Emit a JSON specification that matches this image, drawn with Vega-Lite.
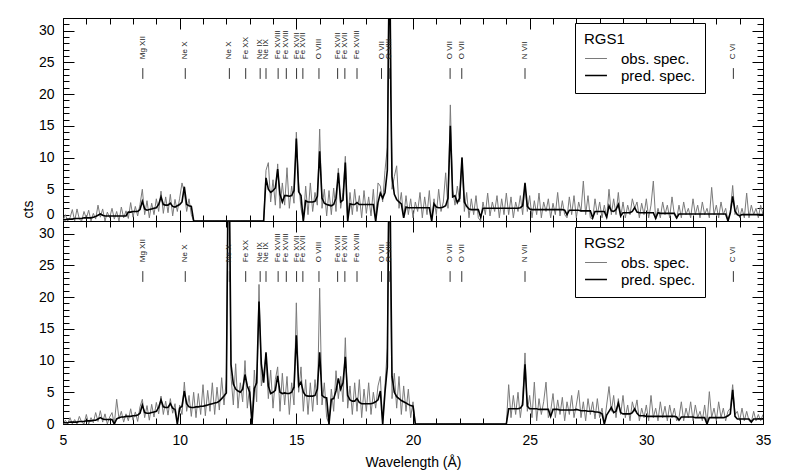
{
"$schema":"https://vega.github.io/schema/vega-lite/v6.json",
"padding":{"left":21,"top":11,"right":5,"bottom":3},
"background":"white",
"config":{"view":{"stroke":null},"font":"Liberation Sans"},
"spacing":0,
"bounds":"flush",
"resolve":{"scale":{"color":"independent","strokeWidth":"independent"},"legend":{"color":"independent"}},
"datasets":{
"lines":[{"w":8.42,"ion":"Mg XII"},{"w":10.24,"ion":"Ne X"},{"w":12.13,"ion":"Ne X"},{"w":12.83,"ion":"Fe XX"},{"w":13.45,"ion":"Ne IX"},{"w":13.7,"ion":"Ne IX"},{"w":14.22,"ion":"Fe XVIII"},{"w":14.57,"ion":"Fe XVIII"},{"w":15.01,"ion":"Fe XVII"},{"w":15.28,"ion":"Fe XVII"},{"w":15.97,"ion":"O VIII"},{"w":16.77,"ion":"Fe XVII"},{"w":17.08,"ion":"Fe XVII"},{"w":17.6,"ion":"Fe XVIII"},{"w":18.65,"ion":"O VII"},{"w":18.98,"ion":"O VIII"},{"w":21.59,"ion":"O VII"},{"w":22.09,"ion":"O VII"},{"w":24.8,"ion":"N VII"},{"w":33.73,"ion":"C VI"}],
"spec":[
{"w":5.0,"p1":0.2,"o1":0,"p2":0.2,"o2":0},
{"w":5.1,"p1":0.2,"o1":1.0,"p2":0.2,"o2":0.6},
{"w":5.2,"p1":0.3,"o1":0,"p2":0.2,"o2":0},
{"w":5.3,"p1":0.3,"o1":0.5,"p2":0.3,"o2":1.0},
{"w":5.4,"p1":0.3,"o1":1.8,"p2":0.3,"o2":0},
{"w":5.5,"p1":0.4,"o1":0,"p2":0.3,"o2":0.7},
{"w":5.6,"p1":0.4,"o1":1.9,"p2":0.3,"o2":0},
{"w":5.7,"p1":0.4,"o1":0.3,"p2":0.4,"o2":1.2},
{"w":5.8,"p1":0.4,"o1":0,"p2":0.4,"o2":0.3},
{"w":5.9,"p1":0.5,"o1":1.5,"p2":0.4,"o2":0},
{"w":6.0,"p1":0.5,"o1":0.4,"p2":0.5,"o2":1.5},
{"w":6.1,"p1":0.5,"o1":1.7,"p2":0.5,"o2":0},
{"w":6.2,"p1":0.5,"o1":0,"p2":0.5,"o2":1.0},
{"w":6.3,"p1":0.6,"o1":1.2,"p2":0.6,"o2":0.2},
{"w":6.4,"p1":0.7,"o1":0.3,"p2":0.6,"o2":1.8},
{"w":6.5,"p1":0.9,"o1":2.5,"p2":0.8,"o2":0.4},
{"w":6.6,"p1":1.1,"o1":0.6,"p2":1.0,"o2":2.1},
{"w":6.7,"p1":0.9,"o1":1.9,"p2":0.8,"o2":0.3},
{"w":6.8,"p1":0.8,"o1":0,"p2":0.7,"o2":1.6},
{"w":6.9,"p1":0.8,"o1":1.4,"p2":0.7,"o2":0},
{"w":7.0,"p1":0.8,"o1":0.5,"p2":0.7,"o2":1.1},
{"w":7.1,"p1":0.8,"o1":2.0,"p2":0.7,"o2":1.8},
{"w":7.2,"p1":0.8,"o1":0.3,"p2":0,"o2":0},
{"w":7.3,"p1":0.8,"o1":1.5,"p2":0.8,"o2":3.9},
{"w":7.4,"p1":0.8,"o1":0,"p2":1.0,"o2":0.8},
{"w":7.5,"p1":0.8,"o1":2.2,"p2":1.1,"o2":2.0},
{"w":7.6,"p1":0.8,"o1":0.5,"p2":1.1,"o2":0.3},
{"w":7.7,"p1":0.8,"o1":1.6,"p2":1.2,"o2":1.6},
{"w":7.8,"p1":1.4,"o1":0.4,"p2":1.2,"o2":0.5},
{"w":7.9,"p1":1.4,"o1":2.9,"p2":1.2,"o2":2.4},
{"w":8.0,"p1":1.5,"o1":0.6,"p2":1.3,"o2":0.6},
{"w":8.1,"p1":1.5,"o1":2.3,"p2":1.3,"o2":1.9},
{"w":8.2,"p1":1.5,"o1":0.8,"p2":1.4,"o2":0.4},
{"w":8.3,"p1":1.8,"o1":2.6,"p2":1.7,"o2":2.7},
{"w":8.4,"p1":3.1,"o1":5.0,"p2":3.0,"o2":3.9},
{"w":8.5,"p1":1.9,"o1":1.0,"p2":1.8,"o2":1.0},
{"w":8.6,"p1":1.7,"o1":3.2,"p2":1.7,"o2":2.9},
{"w":8.7,"p1":1.8,"o1":0.5,"p2":1.7,"o2":0.6},
{"w":8.8,"p1":1.9,"o1":2.8,"p2":1.8,"o2":3.1},
{"w":8.9,"p1":2.0,"o1":1.0,"p2":1.9,"o2":1.1},
{"w":9.0,"p1":2.1,"o1":3.5,"p2":2.0,"o2":3.4},
{"w":9.1,"p1":2.6,"o1":1.5,"p2":2.6,"o2":1.6},
{"w":9.2,"p1":3.8,"o1":4.7,"p2":3.8,"o2":4.4},
{"w":9.3,"p1":2.6,"o1":1.2,"p2":2.7,"o2":1.5},
{"w":9.4,"p1":2.5,"o1":3.8,"p2":2.6,"o2":3.6},
{"w":9.5,"p1":2.5,"o1":1.3,"p2":2.6,"o2":1.4},
{"w":9.6,"p1":2.8,"o1":4.2,"p2":3.2,"o2":4.0},
{"w":9.7,"p1":2.3,"o1":0.8,"p2":2.5,"o2":1.7},
{"w":9.8,"p1":2.2,"o1":3.4,"p2":2.3,"o2":3.2},
{"w":9.9,"p1":2.4,"o1":1.5,"p2":0,"o2":0},
{"w":10.0,"p1":2.6,"o1":3.6,"p2":2.5,"o2":3.0},
{"w":10.1,"p1":3.0,"o1":6.0,"p2":2.8,"o2":1.5},
{"w":10.2,"p1":5.4,"o1":4.5,"p2":5.2,"o2":6.6},
{"w":10.3,"p1":2.6,"o1":1.5,"p2":3.2,"o2":2.0},
{"w":10.4,"p1":2.4,"o1":3.5,"p2":2.7,"o2":4.5},
{"w":10.5,"p1":2.3,"o1":1.0,"p2":2.6,"o2":1.2},
{"w":10.6,"p1":0,"o1":0,"p2":2.6,"o2":5.0},
{"w":10.7,"p1":0,"o1":0,"p2":2.7,"o2":1.0},
{"w":10.8,"p1":0,"o1":0,"p2":2.7,"o2":4.8},
{"w":10.9,"p1":0,"o1":0,"p2":2.8,"o2":1.5},
{"w":11.0,"p1":0,"o1":0,"p2":2.8,"o2":6.2},
{"w":11.1,"p1":0,"o1":0,"p2":2.9,"o2":1.3},
{"w":11.2,"p1":0,"o1":0,"p2":3.0,"o2":5.3},
{"w":11.3,"p1":0,"o1":0,"p2":3.1,"o2":2.0},
{"w":11.4,"p1":0,"o1":0,"p2":3.2,"o2":6.5},
{"w":11.5,"p1":0,"o1":0,"p2":3.3,"o2":1.5},
{"w":11.6,"p1":0,"o1":0,"p2":3.4,"o2":5.8},
{"w":11.7,"p1":0,"o1":0,"p2":3.6,"o2":2.2},
{"w":11.8,"p1":0,"o1":0,"p2":4.0,"o2":7.3},
{"w":11.9,"p1":0,"o1":0,"p2":4.4,"o2":3.0},
{"w":12.0,"p1":0,"o1":0,"p2":4.9,"o2":7.0},
{"w":12.1,"p1":0,"o1":0,"p2":50,"o2":45},
{"w":12.2,"p1":0,"o1":0,"p2":9.4,"o2":7.5},
{"w":12.3,"p1":0,"o1":0,"p2":6.3,"o2":3.0},
{"w":12.4,"p1":0,"o1":0,"p2":5.5,"o2":9.5},
{"w":12.5,"p1":0,"o1":0,"p2":5.2,"o2":2.5},
{"w":12.6,"p1":0,"o1":0,"p2":5.0,"o2":6.5},
{"w":12.7,"p1":0,"o1":0,"p2":5.5,"o2":3.5},
{"w":12.8,"p1":0,"o1":0,"p2":7.8,"o2":10.0},
{"w":12.9,"p1":0,"o1":0,"p2":6.0,"o2":2.5},
{"w":13.0,"p1":0,"o1":0,"p2":5.0,"o2":6.0},
{"w":13.1,"p1":0,"o1":0,"p2":0,"o2":0},
{"w":13.2,"p1":0,"o1":0,"p2":5.6,"o2":8.5},
{"w":13.3,"p1":0,"o1":0,"p2":6.5,"o2":3.5},
{"w":13.4,"p1":0,"o1":0,"p2":19.3,"o2":22.0},
{"w":13.5,"p1":0,"o1":0,"p2":9.5,"o2":6.0},
{"w":13.6,"p1":0,"o1":0,"p2":6.5,"o2":8.0},
{"w":13.7,"p1":6.8,"o1":8.0,"p2":11.3,"o2":11.0},
{"w":13.8,"p1":5.0,"o1":9.2,"p2":6.0,"o2":4.0},
{"w":13.9,"p1":4.5,"o1":3.0,"p2":4.8,"o2":8.5},
{"w":14.0,"p1":4.8,"o1":6.5,"p2":5.0,"o2":2.5},
{"w":14.1,"p1":5.2,"o1":2.5,"p2":5.3,"o2":7.0},
{"w":14.2,"p1":8.2,"o1":9.0,"p2":7.6,"o2":9.0},
{"w":14.3,"p1":4.2,"o1":2.0,"p2":5.0,"o2":2.0},
{"w":14.4,"p1":3.0,"o1":6.0,"p2":4.8,"o2":8.0},
{"w":14.5,"p1":4.0,"o1":2.5,"p2":4.9,"o2":3.0},
{"w":14.6,"p1":4.0,"o1":8.4,"p2":4.8,"o2":7.5},
{"w":14.7,"p1":3.9,"o1":2.0,"p2":4.8,"o2":1.5},
{"w":14.8,"p1":4.0,"o1":5.5,"p2":5.0,"o2":6.5},
{"w":14.9,"p1":4.8,"o1":2.8,"p2":5.8,"o2":3.0},
{"w":15.0,"p1":13.0,"o1":14.0,"p2":14.0,"o2":19.1},
{"w":15.1,"p1":4.6,"o1":6.0,"p2":6.0,"o2":5.0},
{"w":15.2,"p1":4.0,"o1":2.0,"p2":6.6,"o2":9.0},
{"w":15.3,"p1":0,"o1":0,"p2":5.0,"o2":2.0},
{"w":15.4,"p1":3.2,"o1":5.5,"p2":4.5,"o2":7.0},
{"w":15.5,"p1":3.0,"o1":1.0,"p2":4.4,"o2":1.5},
{"w":15.6,"p1":3.0,"o1":6.0,"p2":4.4,"o2":6.5},
{"w":15.7,"p1":3.0,"o1":1.5,"p2":4.4,"o2":2.0},
{"w":15.8,"p1":3.1,"o1":4.5,"p2":4.5,"o2":7.0},
{"w":15.9,"p1":3.9,"o1":2.5,"p2":5.5,"o2":3.0},
{"w":16.0,"p1":11.0,"o1":14.5,"p2":11.3,"o2":21.4},
{"w":16.1,"p1":3.6,"o1":2.0,"p2":4.5,"o2":3.0},
{"w":16.2,"p1":2.8,"o1":5.0,"p2":4.2,"o2":6.5},
{"w":16.3,"p1":2.6,"o1":0.8,"p2":4.1,"o2":1.0},
{"w":16.4,"p1":2.5,"o1":4.8,"p2":0,"o2":0},
{"w":16.5,"p1":2.4,"o1":1.0,"p2":3.9,"o2":5.5},
{"w":16.6,"p1":2.6,"o1":5.2,"p2":4.0,"o2":2.0},
{"w":16.7,"p1":3.6,"o1":1.5,"p2":5.2,"o2":8.4},
{"w":16.8,"p1":7.6,"o1":8.3,"p2":7.2,"o2":4.0},
{"w":16.9,"p1":3.0,"o1":2.0,"p2":5.5,"o2":7.5},
{"w":17.0,"p1":3.3,"o1":4.5,"p2":6.5,"o2":3.5},
{"w":17.1,"p1":9.2,"o1":10.2,"p2":10.6,"o2":13.6},
{"w":17.2,"p1":0,"o1":0,"p2":4.5,"o2":2.5},
{"w":17.3,"p1":2.7,"o1":4.5,"p2":3.8,"o2":6.0},
{"w":17.4,"p1":2.6,"o1":1.0,"p2":3.6,"o2":1.5},
{"w":17.5,"p1":2.6,"o1":5.0,"p2":3.6,"o2":6.5},
{"w":17.6,"p1":2.9,"o1":1.5,"p2":4.0,"o2":2.0},
{"w":17.7,"p1":2.6,"o1":4.0,"p2":3.4,"o2":7.0},
{"w":17.8,"p1":2.6,"o1":0.5,"p2":3.2,"o2":1.0},
{"w":17.9,"p1":2.6,"o1":4.8,"p2":3.2,"o2":5.5},
{"w":18.0,"p1":2.6,"o1":1.2,"p2":3.2,"o2":2.0},
{"w":18.1,"p1":2.6,"o1":3.8,"p2":3.2,"o2":6.5},
{"w":18.2,"p1":2.6,"o1":0.8,"p2":3.2,"o2":1.5},
{"w":18.3,"p1":2.6,"o1":5.0,"p2":3.3,"o2":5.0},
{"w":18.4,"p1":0,"o1":0,"p2":3.5,"o2":2.5},
{"w":18.5,"p1":2.9,"o1":6.0,"p2":3.8,"o2":6.0},
{"w":18.6,"p1":4.4,"o1":5.5,"p2":5.2,"o2":7.5},
{"w":18.7,"p1":3.6,"o1":3.0,"p2":0,"o2":0},
{"w":18.8,"p1":4.5,"o1":8.0,"p2":5.0,"o2":6.0},
{"w":18.9,"p1":8.0,"o1":11.6,"p2":9.0,"o2":12.0},
{"w":18.95,"p1":28,"o1":33,"p2":30,"o2":36},
{"w":19.0,"p1":45,"o1":48,"p2":45,"o2":48},
{"w":19.05,"p1":20,"o1":24,"p2":24,"o2":20},
{"w":19.1,"p1":7.0,"o1":5.0,"p2":7.5,"o2":4.0},
{"w":19.2,"p1":4.2,"o1":7.0,"p2":5.0,"o2":8.0},
{"w":19.3,"p1":3.4,"o1":8.7,"p2":4.3,"o2":2.5},
{"w":19.4,"p1":3.0,"o1":2.0,"p2":4.0,"o2":7.5},
{"w":19.5,"p1":2.7,"o1":4.5,"p2":3.7,"o2":1.5},
{"w":19.6,"p1":0.5,"o1":0.5,"p2":3.5,"o2":6.0},
{"w":19.7,"p1":2.2,"o1":4.0,"p2":3.3,"o2":2.0},
{"w":19.8,"p1":2.1,"o1":1.0,"p2":3.1,"o2":5.5},
{"w":19.9,"p1":2.1,"o1":3.5,"p2":2.9,"o2":1.0},
{"w":20.0,"p1":2.1,"o1":0.5,"p2":2.8,"o2":3.5},
{"w":20.1,"p1":2.1,"o1":3.0,"p2":0,"o2":0},
{"w":20.2,"p1":2.1,"o1":1.5,"p2":0,"o2":0},
{"w":20.3,"p1":2.1,"o1":4.5,"p2":0,"o2":0},
{"w":20.4,"p1":2.1,"o1":0.5,"p2":0,"o2":0},
{"w":20.5,"p1":2.1,"o1":3.8,"p2":0,"o2":0},
{"w":20.6,"p1":2.1,"o1":1.0,"p2":0,"o2":0},
{"w":20.7,"p1":2.1,"o1":4.8,"p2":0,"o2":0},
{"w":20.8,"p1":0,"o1":0,"p2":0,"o2":0},
{"w":20.9,"p1":2.7,"o1":3.5,"p2":0,"o2":0},
{"w":21.0,"p1":2.2,"o1":1.0,"p2":0,"o2":0},
{"w":21.1,"p1":2.1,"o1":5.0,"p2":0,"o2":0},
{"w":21.2,"p1":2.1,"o1":1.5,"p2":0,"o2":0},
{"w":21.3,"p1":2.2,"o1":3.0,"p2":0,"o2":0},
{"w":21.4,"p1":2.4,"o1":7.6,"p2":0,"o2":0},
{"w":21.5,"p1":3.6,"o1":2.0,"p2":0,"o2":0},
{"w":21.6,"p1":15.0,"o1":18.3,"p2":0,"o2":0},
{"w":21.7,"p1":3.8,"o1":5.0,"p2":0,"o2":0},
{"w":21.8,"p1":4.0,"o1":2.5,"p2":0,"o2":0},
{"w":21.9,"p1":2.9,"o1":5.5,"p2":0,"o2":0},
{"w":22.0,"p1":3.6,"o1":3.0,"p2":0,"o2":0},
{"w":22.1,"p1":10.0,"o1":10.0,"p2":0,"o2":0},
{"w":22.2,"p1":3.0,"o1":1.5,"p2":0,"o2":0},
{"w":22.3,"p1":2.3,"o1":4.5,"p2":0,"o2":0},
{"w":22.4,"p1":1.9,"o1":0.5,"p2":0,"o2":0},
{"w":22.5,"p1":1.8,"o1":3.5,"p2":0,"o2":0},
{"w":22.6,"p1":1.8,"o1":1.0,"p2":0,"o2":0},
{"w":22.7,"p1":1.8,"o1":4.0,"p2":0,"o2":0},
{"w":22.8,"p1":1.8,"o1":0.5,"p2":0,"o2":0},
{"w":22.9,"p1":0.6,"o1":0,"p2":0,"o2":0},
{"w":23.0,"p1":2.0,"o1":3.0,"p2":0,"o2":0},
{"w":23.1,"p1":2.0,"o1":1.0,"p2":0,"o2":0},
{"w":23.2,"p1":2.0,"o1":4.4,"p2":0,"o2":0},
{"w":23.3,"p1":2.0,"o1":0.8,"p2":0,"o2":0},
{"w":23.4,"p1":2.0,"o1":3.0,"p2":0,"o2":0},
{"w":23.5,"p1":2.0,"o1":1.5,"p2":0,"o2":0},
{"w":23.6,"p1":2.0,"o1":4.0,"p2":0,"o2":0},
{"w":23.7,"p1":2.0,"o1":0.5,"p2":0,"o2":0},
{"w":23.8,"p1":2.0,"o1":3.5,"p2":0,"o2":0},
{"w":23.9,"p1":2.0,"o1":1.0,"p2":0,"o2":0},
{"w":24.0,"p1":2.0,"o1":4.4,"p2":0,"o2":0},
{"w":24.1,"p1":2.0,"o1":1.0,"p2":2.4,"o2":6.2},
{"w":24.2,"p1":2.0,"o1":3.8,"p2":2.4,"o2":1.0},
{"w":24.3,"p1":2.0,"o1":0.5,"p2":2.4,"o2":4.5},
{"w":24.4,"p1":2.0,"o1":3.0,"p2":2.4,"o2":1.5},
{"w":24.5,"p1":2.0,"o1":1.5,"p2":2.4,"o2":5.0},
{"w":24.6,"p1":2.1,"o1":4.0,"p2":2.5,"o2":1.0},
{"w":24.7,"p1":2.4,"o1":1.0,"p2":3.0,"o2":4.0},
{"w":24.8,"p1":6.0,"o1":5.8,"p2":9.4,"o2":11.2},
{"w":24.9,"p1":2.3,"o1":1.5,"p2":2.8,"o2":2.0},
{"w":25.0,"p1":1.9,"o1":4.0,"p2":2.4,"o2":4.5},
{"w":25.1,"p1":1.8,"o1":0.5,"p2":2.4,"o2":1.0},
{"w":25.2,"p1":1.8,"o1":3.2,"p2":2.4,"o2":6.6},
{"w":25.3,"p1":1.8,"o1":1.0,"p2":2.4,"o2":0.5},
{"w":25.4,"p1":1.8,"o1":4.4,"p2":2.3,"o2":4.0},
{"w":25.5,"p1":1.8,"o1":0.5,"p2":2.3,"o2":1.5},
{"w":25.6,"p1":1.8,"o1":3.0,"p2":2.3,"o2":3.5},
{"w":25.7,"p1":1.8,"o1":1.5,"p2":2.3,"o2":6.6},
{"w":25.8,"p1":1.8,"o1":3.5,"p2":2.3,"o2":1.0},
{"w":25.9,"p1":1.8,"o1":0.5,"p2":1.2,"o2":2.0},
{"w":26.0,"p1":1.8,"o1":2.8,"p2":2.3,"o2":4.8},
{"w":26.1,"p1":1.8,"o1":1.0,"p2":2.3,"o2":1.0},
{"w":26.2,"p1":1.8,"o1":4.5,"p2":2.3,"o2":3.8},
{"w":26.3,"p1":1.8,"o1":0.8,"p2":2.2,"o2":1.5},
{"w":26.4,"p1":1.8,"o1":3.2,"p2":2.2,"o2":4.2},
{"w":26.5,"p1":1.7,"o1":1.0,"p2":2.2,"o2":0.5},
{"w":26.6,"p1":1.0,"o1":0.5,"p2":2.2,"o2":3.5},
{"w":26.7,"p1":1.7,"o1":3.8,"p2":2.2,"o2":1.5},
{"w":26.8,"p1":1.7,"o1":1.0,"p2":2.2,"o2":4.5},
{"w":26.9,"p1":1.7,"o1":4.0,"p2":2.2,"o2":1.0},
{"w":27.0,"p1":1.7,"o1":0.5,"p2":2.3,"o2":3.0},
{"w":27.1,"p1":1.7,"o1":3.0,"p2":2.2,"o2":5.3},
{"w":27.2,"p1":1.6,"o1":1.5,"p2":2.1,"o2":1.0},
{"w":27.3,"p1":1.6,"o1":6.3,"p2":2.1,"o2":3.5},
{"w":27.4,"p1":1.6,"o1":1.0,"p2":2.1,"o2":0.5},
{"w":27.5,"p1":1.6,"o1":4.0,"p2":2.0,"o2":4.0},
{"w":27.6,"p1":1.6,"o1":0.5,"p2":2.0,"o2":1.5},
{"w":27.7,"p1":0.5,"o1":0.3,"p2":2.0,"o2":3.5},
{"w":27.8,"p1":1.5,"o1":3.5,"p2":1.9,"o2":0.8},
{"w":27.9,"p1":1.5,"o1":1.0,"p2":1.9,"o2":4.0},
{"w":28.0,"p1":1.5,"o1":3.0,"p2":1.8,"o2":1.0},
{"w":28.1,"p1":1.5,"o1":0.5,"p2":1.6,"o2":2.5},
{"w":28.2,"p1":1.5,"o1":2.5,"p2":0,"o2":0},
{"w":28.3,"p1":0.6,"o1":0.5,"p2":1.4,"o2":3.0},
{"w":28.4,"p1":2.4,"o1":5.0,"p2":2.0,"o2":5.9},
{"w":28.5,"p1":1.6,"o1":1.0,"p2":2.6,"o2":2.0},
{"w":28.6,"p1":1.5,"o1":3.5,"p2":1.8,"o2":4.5},
{"w":28.7,"p1":1.8,"o1":1.0,"p2":2.0,"o2":1.0},
{"w":28.8,"p1":2.6,"o1":4.5,"p2":3.3,"o2":4.0},
{"w":28.9,"p1":0.8,"o1":0.5,"p2":1.8,"o2":1.5},
{"w":29.0,"p1":1.3,"o1":3.0,"p2":1.6,"o2":4.5},
{"w":29.1,"p1":1.3,"o1":0.5,"p2":1.6,"o2":1.0},
{"w":29.2,"p1":1.3,"o1":2.5,"p2":1.6,"o2":3.0},
{"w":29.3,"p1":1.3,"o1":1.0,"p2":1.6,"o2":0.5},
{"w":29.4,"p1":1.5,"o1":3.5,"p2":1.8,"o2":3.5},
{"w":29.5,"p1":2.1,"o1":2.0,"p2":2.4,"o2":2.0},
{"w":29.6,"p1":1.4,"o1":3.0,"p2":1.7,"o2":3.8},
{"w":29.7,"p1":1.3,"o1":0.5,"p2":1.3,"o2":0.5},
{"w":29.8,"p1":1.3,"o1":2.8,"p2":1.3,"o2":2.5},
{"w":29.9,"p1":1.3,"o1":1.0,"p2":1.3,"o2":1.0},
{"w":30.0,"p1":1.3,"o1":3.5,"p2":1.2,"o2":3.0},
{"w":30.1,"p1":1.3,"o1":0.5,"p2":1.2,"o2":0.5},
{"w":30.2,"p1":1.3,"o1":2.5,"p2":1.2,"o2":4.5},
{"w":30.3,"p1":1.3,"o1":6.3,"p2":1.2,"o2":1.0},
{"w":30.4,"p1":0.4,"o1":0.3,"p2":1.2,"o2":2.5},
{"w":30.5,"p1":1.3,"o1":2.0,"p2":1.2,"o2":0.5},
{"w":30.6,"p1":1.2,"o1":0.5,"p2":1.2,"o2":3.5},
{"w":30.7,"p1":1.2,"o1":3.0,"p2":1.2,"o2":1.0},
{"w":30.8,"p1":1.2,"o1":1.0,"p2":1.2,"o2":2.8},
{"w":30.9,"p1":1.2,"o1":2.5,"p2":1.2,"o2":0.5},
{"w":31.0,"p1":1.2,"o1":0.5,"p2":1.2,"o2":3.0},
{"w":31.1,"p1":1.2,"o1":3.8,"p2":1.2,"o2":1.0},
{"w":31.2,"p1":1.2,"o1":1.0,"p2":1.2,"o2":2.5},
{"w":31.3,"p1":0.5,"o1":0.3,"p2":1.1,"o2":0.5},
{"w":31.4,"p1":1.1,"o1":2.5,"p2":0.6,"o2":1.0},
{"w":31.5,"p1":1.1,"o1":0.5,"p2":1.1,"o2":3.5},
{"w":31.6,"p1":1.1,"o1":3.0,"p2":1.1,"o2":0.5},
{"w":31.7,"p1":1.1,"o1":1.0,"p2":1.1,"o2":2.5},
{"w":31.8,"p1":1.1,"o1":2.0,"p2":1.1,"o2":1.0},
{"w":31.9,"p1":1.1,"o1":0.5,"p2":1.1,"o2":3.5},
{"w":32.0,"p1":1.1,"o1":3.5,"p2":1.1,"o2":0.5},
{"w":32.1,"p1":1.1,"o1":1.0,"p2":1.0,"o2":3.0},
{"w":32.2,"p1":1.1,"o1":2.5,"p2":1.0,"o2":1.0},
{"w":32.3,"p1":1.1,"o1":0.5,"p2":1.0,"o2":2.0},
{"w":32.4,"p1":1.1,"o1":3.0,"p2":1.0,"o2":0.5},
{"w":32.5,"p1":1.1,"o1":1.0,"p2":1.0,"o2":3.0},
{"w":32.6,"p1":1.1,"o1":2.0,"p2":0,"o2":0},
{"w":32.7,"p1":1.1,"o1":0.5,"p2":1.0,"o2":5.1},
{"w":32.8,"p1":1.1,"o1":5.3,"p2":1.0,"o2":1.0},
{"w":32.9,"p1":1.1,"o1":1.0,"p2":1.0,"o2":2.5},
{"w":33.0,"p1":1.1,"o1":2.5,"p2":1.0,"o2":0.5},
{"w":33.1,"p1":1.1,"o1":0.5,"p2":1.0,"o2":3.5},
{"w":33.2,"p1":1.1,"o1":3.0,"p2":1.0,"o2":1.0},
{"w":33.3,"p1":1.1,"o1":1.0,"p2":1.0,"o2":2.5},
{"w":33.4,"p1":1.1,"o1":2.0,"p2":1.1,"o2":0.5},
{"w":33.5,"p1":0,"o1":0,"p2":1.3,"o2":2.0},
{"w":33.6,"p1":1.3,"o1":1.5,"p2":1.6,"o2":2.5},
{"w":33.7,"p1":3.9,"o1":5.6,"p2":5.4,"o2":6.2},
{"w":33.8,"p1":1.6,"o1":1.0,"p2":1.2,"o2":1.5},
{"w":33.9,"p1":1.0,"o1":2.5,"p2":0.8,"o2":2.0},
{"w":34.0,"p1":0.8,"o1":0.5,"p2":0.8,"o2":0.5},
{"w":34.1,"p1":1.0,"o1":2.0,"p2":0.8,"o2":2.5},
{"w":34.2,"p1":1.0,"o1":0.5,"p2":0.8,"o2":0.5},
{"w":34.3,"p1":1.0,"o1":4.4,"p2":0.8,"o2":2.0},
{"w":34.4,"p1":1.0,"o1":0.5,"p2":0.8,"o2":0.5},
{"w":34.5,"p1":1.0,"o1":2.5,"p2":0.3,"o2":0.3},
{"w":34.6,"p1":1.0,"o1":1.0,"p2":0.8,"o2":2.0},
{"w":34.7,"p1":1.0,"o1":2.0,"p2":0.8,"o2":0.5},
{"w":34.8,"p1":1.0,"o1":0.5,"p2":0.8,"o2":1.5},
{"w":34.9,"p1":1.0,"o1":2.5,"p2":0.8,"o2":0.5},
{"w":35.0,"p1":1.0,"o1":1.0,"p2":0.8,"o2":1.5}
]},
"vconcat":[
{
"width":700,"height":203,
"resolve":{"axis":{"x":"independent","y":"independent"}},
"layer":[
{
"data":{"name":"spec"},
"transform":[{"fold":["o1","p1"],"as":["series","cts"]}],
"mark":{"type":"line","clip":true},
"encoding":{
"x":{"field":"w","type":"quantitative","scale":{"domain":[5,35],"nice":false,"zero":false},
"axis":{"orient":"bottom","values":[5,6,7,8,9,10,11,12,13,14,15,16,17,18,19,20,21,22,23,24,25,26,27,28,29,30,31,32,33,34,35],"labels":false,"title":null,"grid":false,"tickSize":{"condition":{"test":"datum.value % 5 === 0","value":-11},"value":-6},"tickColor":"#000","tickWidth":1,"domainColor":"#000","domainWidth":1}},
"y":{"field":"cts","type":"quantitative","scale":{"domain":[0,32],"nice":false,"zero":false},
"axis":{"orient":"left","values":[0,1,2,3,4,5,6,7,8,9,10,11,12,13,14,15,16,17,18,19,20,21,22,23,24,25,26,27,28,29,30,31,32],"labelExpr":"datum.value % 5 === 0 ? datum.label : ''","labelOverlap":false,"labelFlush":false,"labelBaseline":{"condition":{"test":"datum.value === 0","value":"bottom"},"value":"middle"},"labelFont":"Liberation Sans","labelFontSize":14,"labelColor":"#000","labelPadding":20,"grid":false,"tickSize":{"condition":{"test":"datum.value % 5 === 0","value":-11},"value":-6},"tickColor":"#000","tickWidth":1,"domainColor":"#000","domainWidth":1,"title":"cts","titleFont":"Liberation Sans","titleFontSize":14,"titleFontWeight":"normal","titleColor":"#000","titleAngle":270,"titleAlign":"left","titleBaseline":"middle","titleX":-35,"titleY":200}},
"color":{"field":"series","type":"nominal","scale":{"domain":["o1","p1"],"range":["#7a7a7a","#000000"]},
"legend":{"title":"RGS1","orient":"none","legendX":512,"legendY":5,"direction":"vertical","strokeColor":"#000","fillColor":"#fff","padding":9,"cornerRadius":0,"titleFont":"Liberation Sans","titleFontSize":15,"titleFontWeight":"normal","titleColor":"#000","titlePadding":3,"labelFont":"Liberation Sans","labelFontSize":15,"labelColor":"#000","symbolType":"stroke","symbolSize":480,"clipHeight":17,"labelOffset":13,"rowPadding":0,"labelExpr":"datum.value[0] == 'o' ? 'obs. spec.' : 'pred. spec.'","encode":{"symbols":{"update":{"strokeWidth":{"signal":"datum.value[0] == 'p' ? 2 : 1"}}}}}},
"strokeWidth":{"field":"series","type":"nominal","scale":{"domain":["o1","p1"],"range":[1,1.6]},"legend":null}
}
},
{
"data":{"name":"lines"},
"mark":{"type":"text","angle":270,"align":"left","baseline":"middle","fontSize":8,"font":"Liberation Sans","color":"#222"},
"encoding":{
"x":{"field":"w","type":"quantitative","scale":{"domain":[5,35],"nice":false,"zero":false},"axis":null},
"y":{"datum":25.5,"type":"quantitative","axis":null},
"text":{"field":"ion"}
}
},
{
"data":{"name":"lines"},
"mark":{"type":"rule","color":"#333","strokeWidth":1},
"encoding":{
"x":{"field":"w","type":"quantitative","scale":{"domain":[5,35],"nice":false,"zero":false},
"axis":{"orient":"top","values":[5,6,7,8,9,10,11,12,13,14,15,16,17,18,19,20,21,22,23,24,25,26,27,28,29,30,31,32,33,34,35],"labels":false,"title":null,"grid":false,"tickSize":{"condition":{"test":"datum.value % 5 === 0","value":-11},"value":-6},"tickColor":"#000","tickWidth":1,"domainColor":"#000","domainWidth":1}},
"y":{"datum":22.4,"type":"quantitative",
"axis":{"orient":"right","values":[0,1,2,3,4,5,6,7,8,9,10,11,12,13,14,15,16,17,18,19,20,21,22,23,24,25,26,27,28,29,30,31,32],"labels":false,"title":null,"grid":false,"tickSize":{"condition":{"test":"datum.value % 5 === 0","value":-11},"value":-6},"tickColor":"#000","tickWidth":1,"domainColor":"#000","domainWidth":1}},
"y2":{"datum":24.1}
}
}
]
},
{
"width":700,"height":203,
"resolve":{"axis":{"x":"independent","y":"independent"}},
"layer":[
{
"data":{"name":"spec"},
"transform":[{"fold":["o2","p2"],"as":["series","cts"]}],
"mark":{"type":"line","clip":true},
"encoding":{
"x":{"field":"w","type":"quantitative","scale":{"domain":[5,35],"nice":false,"zero":false},
"axis":{"orient":"bottom","values":[5,6,7,8,9,10,11,12,13,14,15,16,17,18,19,20,21,22,23,24,25,26,27,28,29,30,31,32,33,34,35],"labelExpr":"datum.value % 5 === 0 ? datum.label : ''","labelOverlap":false,"labelFlush":false,"labelFont":"Liberation Sans","labelFontSize":14,"labelColor":"#000","labelPadding":20,"grid":false,"tickSize":{"condition":{"test":"datum.value % 5 === 0","value":-11},"value":-6},"tickColor":"#000","tickWidth":1,"domainColor":"#000","domainWidth":1,"title":"Wavelength (Å)","titleFont":"Liberation Sans","titleFontSize":14,"titleFontWeight":"normal","titleColor":"#000","titlePadding":3}},
"y":{"field":"cts","type":"quantitative","scale":{"domain":[0,32],"nice":false,"zero":false},
"axis":{"orient":"left","values":[0,1,2,3,4,5,6,7,8,9,10,11,12,13,14,15,16,17,18,19,20,21,22,23,24,25,26,27,28,29,30,31,32],"labelExpr":"datum.value % 5 === 0 ? datum.label : ''","labelOverlap":false,"labelFlush":false,"labelFont":"Liberation Sans","labelFontSize":14,"labelColor":"#000","labelPadding":20,"grid":false,"tickSize":{"condition":{"test":"datum.value % 5 === 0","value":-11},"value":-6},"tickColor":"#000","tickWidth":1,"domainColor":"#000","domainWidth":1,"title":null}},
"color":{"field":"series","type":"nominal","scale":{"domain":["o2","p2"],"range":["#7a7a7a","#000000"]},
"legend":{"title":"RGS2","orient":"none","legendX":512,"legendY":6,"direction":"vertical","strokeColor":"#000","fillColor":"#fff","padding":9,"cornerRadius":0,"titleFont":"Liberation Sans","titleFontSize":15,"titleFontWeight":"normal","titleColor":"#000","titlePadding":3,"labelFont":"Liberation Sans","labelFontSize":15,"labelColor":"#000","symbolType":"stroke","symbolSize":480,"clipHeight":17,"labelOffset":13,"rowPadding":0,"labelExpr":"datum.value[0] == 'o' ? 'obs. spec.' : 'pred. spec.'","encode":{"symbols":{"update":{"strokeWidth":{"signal":"datum.value[0] == 'p' ? 2 : 1"}}}}}},
"strokeWidth":{"field":"series","type":"nominal","scale":{"domain":["o2","p2"],"range":[1,1.6]},"legend":null}
}
},
{
"data":{"name":"lines"},
"mark":{"type":"text","angle":270,"align":"left","baseline":"middle","fontSize":8,"font":"Liberation Sans","color":"#222"},
"encoding":{
"x":{"field":"w","type":"quantitative","scale":{"domain":[5,35],"nice":false,"zero":false},"axis":null},
"y":{"datum":25.5,"type":"quantitative","axis":null},
"text":{"field":"ion"}
}
},
{
"data":{"name":"lines"},
"mark":{"type":"rule","color":"#333","strokeWidth":1},
"encoding":{
"x":{"field":"w","type":"quantitative","scale":{"domain":[5,35],"nice":false,"zero":false},
"axis":{"orient":"top","values":[5,6,7,8,9,10,11,12,13,14,15,16,17,18,19,20,21,22,23,24,25,26,27,28,29,30,31,32,33,34,35],"labels":false,"title":null,"grid":false,"tickSize":{"condition":{"test":"datum.value % 5 === 0","value":-11},"value":-6},"tickColor":"#000","tickWidth":1,"domainColor":"#000","domainWidth":1}},
"y":{"datum":22.4,"type":"quantitative",
"axis":{"orient":"right","values":[0,1,2,3,4,5,6,7,8,9,10,11,12,13,14,15,16,17,18,19,20,21,22,23,24,25,26,27,28,29,30,31,32],"labels":false,"title":null,"grid":false,"tickSize":{"condition":{"test":"datum.value % 5 === 0","value":-11},"value":-6},"tickColor":"#000","tickWidth":1,"domainColor":"#000","domainWidth":1}},
"y2":{"datum":24.1}
}
}
]
}
]
}
